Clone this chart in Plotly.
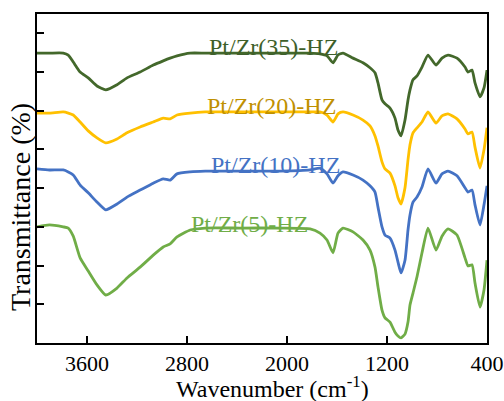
import plotly.graph_objects as go

# Wavenumber (cm-1)
wavenumber = [4000, 3900, 3790, 3750, 3710, 3655, 3590, 3520, 3450, 3360,
              3280, 3175, 3070, 2990, 2935, 2880, 2775, 2655, 2375, 2055,
              1815, 1736, 1680, 1632, 1592, 1552, 1472, 1392, 1336, 1296,
              1272, 1240, 1216, 1176, 1136, 1112, 1088, 1056, 1032, 1016,
              992, 960, 920, 872, 808, 760, 712, 640, 576, 552,
              520, 496, 456, 424, 400]

t_35 = [74.9, 74.9, 74.9, 74.4, 72.6, 70.0, 68.5, 66.4, 65.4, 66.7,
        68.5, 70.0, 71.8, 72.9, 73.6, 74.2, 74.9, 74.9, 74.9, 74.9,
        74.9, 74.7, 74.2, 72.4, 74.4, 74.9, 73.6, 72.4, 71.1, 69.8,
        67.2, 62.8, 61.8, 60.7, 58.1, 55.0, 53.5, 57.6, 62.8, 65.4,
        68.0, 69.0, 71.3, 74.4, 71.8, 73.6, 74.4, 73.6, 71.3, 70.0,
        70.5, 67.2, 63.6, 65.9, 70.5]

t_20 = [59.4, 59.4, 59.7, 59.4, 58.9, 57.1, 54.8, 53.0, 51.7, 52.7,
        54.3, 55.8, 57.1, 58.1, 57.9, 58.9, 59.4, 59.7, 59.7, 59.7,
        59.7, 59.7, 58.9, 57.1, 59.2, 59.7, 58.9, 57.6, 56.1, 53.5,
        50.9, 46.8, 45.0, 43.9, 40.6, 37.5, 35.9, 40.1, 47.3, 51.2,
        54.3, 55.6, 57.1, 59.7, 56.8, 58.7, 59.2, 57.9, 55.3, 54.0,
        54.5, 50.6, 45.2, 49.9, 55.6]

t_10 = [45.0, 44.7, 44.7, 44.2, 43.4, 40.8, 38.8, 36.4, 34.4, 35.9,
        37.7, 39.5, 41.3, 42.4, 42.1, 43.7, 44.2, 44.4, 44.4, 44.4,
        44.7, 45.2, 43.7, 41.3, 43.2, 44.2, 43.4, 42.1, 40.6, 39.0,
        35.1, 30.0, 27.9, 27.1, 24.0, 20.9, 18.1, 21.4, 29.2, 33.1,
        36.4, 37.7, 40.3, 45.0, 41.3, 43.7, 44.4, 43.2, 40.1, 39.0,
        39.5, 35.7, 30.5, 35.7, 40.6]

t_5 = [30.0, 30.5, 30.0, 29.7, 27.6, 22.0, 18.6, 15.0, 12.4, 14.2,
       16.8, 19.6, 22.7, 24.8, 25.6, 27.4, 29.2, 29.7, 29.7, 29.7,
       29.5, 28.4, 26.6, 23.3, 28.4, 29.7, 28.7, 26.6, 24.0, 19.6,
       14.5, 8.5, 6.5, 5.4, 2.8, 1.8, 1.3, 2.3, 5.4, 9.8,
       12.9, 17.1, 23.3, 29.7, 24.0, 27.6, 29.5, 27.9, 22.0, 19.9,
       20.2, 15.5, 9.3, 13.7, 21.4]

series_names = ["Pt/Zr(35)-HZ", "Pt/Zr(20)-HZ", "Pt/Zr(10)-HZ", "Pt/Zr(5)-HZ"]
series_values = [t_35, t_20, t_10, t_5]
line_colors = ["#43682B", "#FFC000", "#4472C4", "#70AD47"]
label_colors = ["#3E5F2A", "#BF9000", "#4472C4", "#70AD47"]
label_x = [2108, 2128, 2096, 2304]
label_y = [76.5, 61.2, 46.0, 30.7]

x_tickvals = [3600, 2800, 2000, 1200, 400]
y_tickvals = [0, 10, 20, 30, 40, 50, 60, 70, 80]

FONT = "Liberation Serif, Times New Roman, serif"

fig = go.Figure()
for name, vals, col in zip(series_names, series_values, line_colors):
    fig.add_trace(go.Scatter(x=wavenumber, y=vals, mode="lines", name=name,
                             line=dict(color=col, width=2.8, shape="spline", smoothing=0.5)))

for name, lx, ly, col in zip(series_names, label_x, label_y, label_colors):
    fig.add_annotation(x=lx, y=ly, text=name, showarrow=False,
                       font=dict(family=FONT, size=24, color=col),
                       xanchor="center", yanchor="middle")

# axis titles
fig.add_annotation(xref="paper", yref="paper", x=0.524, y=-0.133,
                   text="Wavenumber (cm<sup>-1</sup>)", showarrow=False,
                   xanchor="center", yanchor="middle",
                   font=dict(family=FONT, size=24, color="black"))
fig.add_annotation(xref="paper", yref="paper", x=-0.038, y=0.413,
                   text="Transmittance (%)", showarrow=False, textangle=-90,
                   xanchor="center", yanchor="middle",
                   font=dict(family=FONT, size=28, color="black"))

fig.update_layout(
    width=504, height=401,
    margin=dict(l=37, r=17, t=14, b=58),
    paper_bgcolor="white", plot_bgcolor="white",
    showlegend=False,
    font=dict(family=FONT, color="black"),
)
fig.update_xaxes(range=[4000, 400], tickvals=x_tickvals,
                 ticktext=[str(v) for v in x_tickvals],
                 ticks="inside", ticklen=7, tickwidth=2, tickcolor="black",
                 showline=True, linewidth=2, linecolor="black", mirror=True,
                 showgrid=False, zeroline=False, automargin=False,
                 tickfont=dict(family=FONT, size=22, color="black"))
fig.update_yaxes(range=[0, 85], tickvals=y_tickvals, showticklabels=False,
                 ticks="inside", ticklen=7, tickwidth=2, tickcolor="black",
                 showline=True, linewidth=2, linecolor="black", mirror=True,
                 showgrid=False, zeroline=False, automargin=False)

fig.write_html("out.html", config={"displayModeBar": False},
               post_script="document.body.style.margin='0';document.body.style.overflow='hidden';")
